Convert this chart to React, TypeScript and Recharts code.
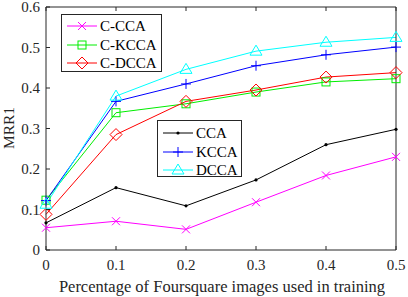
import React from "react";
import { LineChart, Line, XAxis, YAxis } from "recharts";

const fractions = [0, 0.1, 0.2, 0.3, 0.4, 0.5];
const yTicks = [0, 0.1, 0.2, 0.3, 0.4, 0.5, 0.6];

const cCca = [0.055, 0.071, 0.051, 0.118, 0.184, 0.23];
const cKcca = [0.123, 0.339, 0.361, 0.39, 0.415, 0.423];
const cDcca = [0.088, 0.285, 0.367, 0.395, 0.427, 0.438];
const cca = [0.067, 0.154, 0.109, 0.173, 0.26, 0.298];
const kcca = [0.122, 0.367, 0.41, 0.455, 0.482, 0.501];
const dcca = [0.113, 0.38, 0.446, 0.491, 0.513, 0.525];

const data = fractions.map((f, i) => ({
  f,
  cCca: cCca[i],
  cKcca: cKcca[i],
  cDcca: cDcca[i],
  cca: cca[i],
  kcca: kcca[i],
  dcca: dcca[i],
}));

const FONT = "'Liberation Serif', 'Times New Roman', serif";
const INK = "#262626";

type MarkerKind = "x" | "square" | "diamond" | "dot" | "plus" | "triangle";

const Marker = ({ kind, cx, cy, color }: { kind: MarkerKind; cx: number; cy: number; color: string }) => {
  if (cx == null || cy == null) return null;
  switch (kind) {
    case "x":
      return (
        <g stroke={color} strokeWidth={1}>
          <line x1={cx - 4} y1={cy - 4} x2={cx + 4} y2={cy + 4} />
          <line x1={cx - 4} y1={cy + 4} x2={cx + 4} y2={cy - 4} />
        </g>
      );
    case "plus":
      return (
        <g stroke={color} strokeWidth={1}>
          <line x1={cx - 5} y1={cy} x2={cx + 5} y2={cy} />
          <line x1={cx} y1={cy - 5} x2={cx} y2={cy + 5} />
        </g>
      );
    case "square":
      return <rect x={cx - 4} y={cy - 4} width={8} height={8} fill="none" stroke={color} strokeWidth={1} />;
    case "diamond":
      return (
        <polygon
          points={`${cx},${cy - 6} ${cx + 6},${cy} ${cx},${cy + 6} ${cx - 6},${cy}`}
          fill="none"
          stroke={color}
          strokeWidth={1}
        />
      );
    case "triangle":
      return (
        <polygon
          points={`${cx},${cy - 6} ${cx + 6},${cy + 4} ${cx - 6},${cy + 4}`}
          fill="none"
          stroke={color}
          strokeWidth={1}
        />
      );
    default:
      return <circle cx={cx} cy={cy} r={1.6} fill={color} />;
  }
};

const series: { key: string; name: string; color: string; marker: MarkerKind }[] = [
  { key: "cCca", name: "C-CCA", color: "#ff00ff", marker: "x" },
  { key: "cKcca", name: "C-KCCA", color: "#00ee00", marker: "square" },
  { key: "cDcca", name: "C-DCCA", color: "#ff0000", marker: "diamond" },
  { key: "cca", name: "CCA", color: "#000000", marker: "dot" },
  { key: "kcca", name: "KCCA", color: "#0000ff", marker: "plus" },
  { key: "dcca", name: "DCCA", color: "#00ffff", marker: "triangle" },
];

const BottomTick = (props: any) => {
  const { x, y, payload } = props;
  return (
    <g>
      <line x1={x} y1={y} x2={x} y2={y - 4} stroke={INK} />
      <text x={x} y={y + 20} textAnchor="middle" fontFamily={FONT} fontSize={15} fill={INK}>
        {payload.value}
      </text>
    </g>
  );
};

const TopTick = (props: any) => {
  const { x, y } = props;
  return <line x1={x} y1={y} x2={x} y2={y + 4} stroke={INK} />;
};

const LeftTick = (props: any) => {
  const { x, y, payload } = props;
  return (
    <g>
      <line x1={x} y1={y} x2={x + 4} y2={y} stroke={INK} />
      <text x={x - 6} y={y + 5} textAnchor="end" fontFamily={FONT} fontSize={15} fill={INK}>
        {payload.value}
      </text>
    </g>
  );
};

const RightTick = (props: any) => {
  const { x, y } = props;
  return <line x1={x} y1={y} x2={x - 4} y2={y} stroke={INK} />;
};

const LegendBox = ({
  keys,
  left,
  top,
  width,
  height,
  rows,
}: {
  keys: string[];
  left: number;
  top: number;
  width: number;
  height: number;
  rows: number[];
}) => {
  const items = keys.map((k) => series.find((s) => s.key === k)!);
  return (
    <svg
      width={width}
      height={height}
      style={{ position: "absolute", left, top, overflow: "visible" }}
    >
      <rect x={0.5} y={0.5} width={width - 1} height={height - 1} fill="#fff" stroke={INK} />
      {items.map((s, i) => (
        <g key={s.key}>
          <line x1={6} y1={rows[i]} x2={36} y2={rows[i]} stroke={s.color} />
          <Marker kind={s.marker} cx={21} cy={rows[i]} color={s.color} />
          <text x={39} y={rows[i] + 5} fontFamily={FONT} fontSize={15} fill="#000">
            {s.name}
          </text>
        </g>
      ))}
    </svg>
  );
};

export default function App() {
  return (
    <div style={{ position: "absolute", left: 0, top: 0, width: 408, height: 297, background: "#fff" }}>
      <LineChart width={408} height={297} data={data} margin={{ top: 0, right: 0, bottom: 0, left: 0 }}>
        <XAxis
          xAxisId="b"
          dataKey="f"
          type="number"
          domain={[0, 0.5]}
          ticks={fractions}
          interval={0}
          height={47}
          tickSize={0}
          tickMargin={0}
          tickLine={false}
          stroke={INK}
          tick={<BottomTick />}
          label={() => (
            <text x={222} y={292} textAnchor="middle" fontFamily={FONT} fontSize={16.5} fill={INK}>
              Percentage of Foursquare images used in training
            </text>
          )}
        />
        <XAxis
          xAxisId="t"
          dataKey="f"
          type="number"
          orientation="top"
          domain={[0, 0.5]}
          ticks={fractions}
          interval={0}
          height={7}
          tickSize={0}
          tickMargin={0}
          tickLine={false}
          stroke={INK}
          tick={<TopTick />}
        />
        <YAxis
          yAxisId="l"
          type="number"
          domain={[0, 0.6]}
          ticks={yTicks}
          interval={0}
          width={46}
          tickSize={0}
          tickMargin={0}
          tickLine={false}
          stroke={INK}
          tick={<LeftTick />}
          label={() => (
            <text
              x={14}
              y={128}
              transform="rotate(-90 14 128)"
              textAnchor="middle"
              fontFamily={FONT}
              fontSize={15.5}
              fill={INK}
            >
              MRR1
            </text>
          )}
        />
        <YAxis
          yAxisId="r"
          orientation="right"
          type="number"
          domain={[0, 0.6]}
          ticks={yTicks}
          interval={0}
          width={12}
          tickSize={0}
          tickMargin={0}
          tickLine={false}
          stroke={INK}
          tick={<RightTick />}
        />
        {series.map((s) => (
          <Line
            key={s.key}
            xAxisId="b"
            yAxisId="l"
            dataKey={s.key}
            name={s.name}
            stroke={s.color}
            strokeWidth={1}
            isAnimationActive={false}
            dot={(p: any) => <Marker key={`${s.key}-${p.index}`} kind={s.marker} cx={p.cx} cy={p.cy} color={s.color} />}
            activeDot={false}
          />
        ))}
      </LineChart>
      <LegendBox keys={["cCca", "cKcca", "cDcca"]} left={61} top={14} width={101} height={58} rows={[12, 31, 49]} />
      <LegendBox keys={["cca", "kcca", "dcca"]} left={157} top={120} width={85} height={57} rows={[13, 32, 50]} />
    </div>
  );
}
